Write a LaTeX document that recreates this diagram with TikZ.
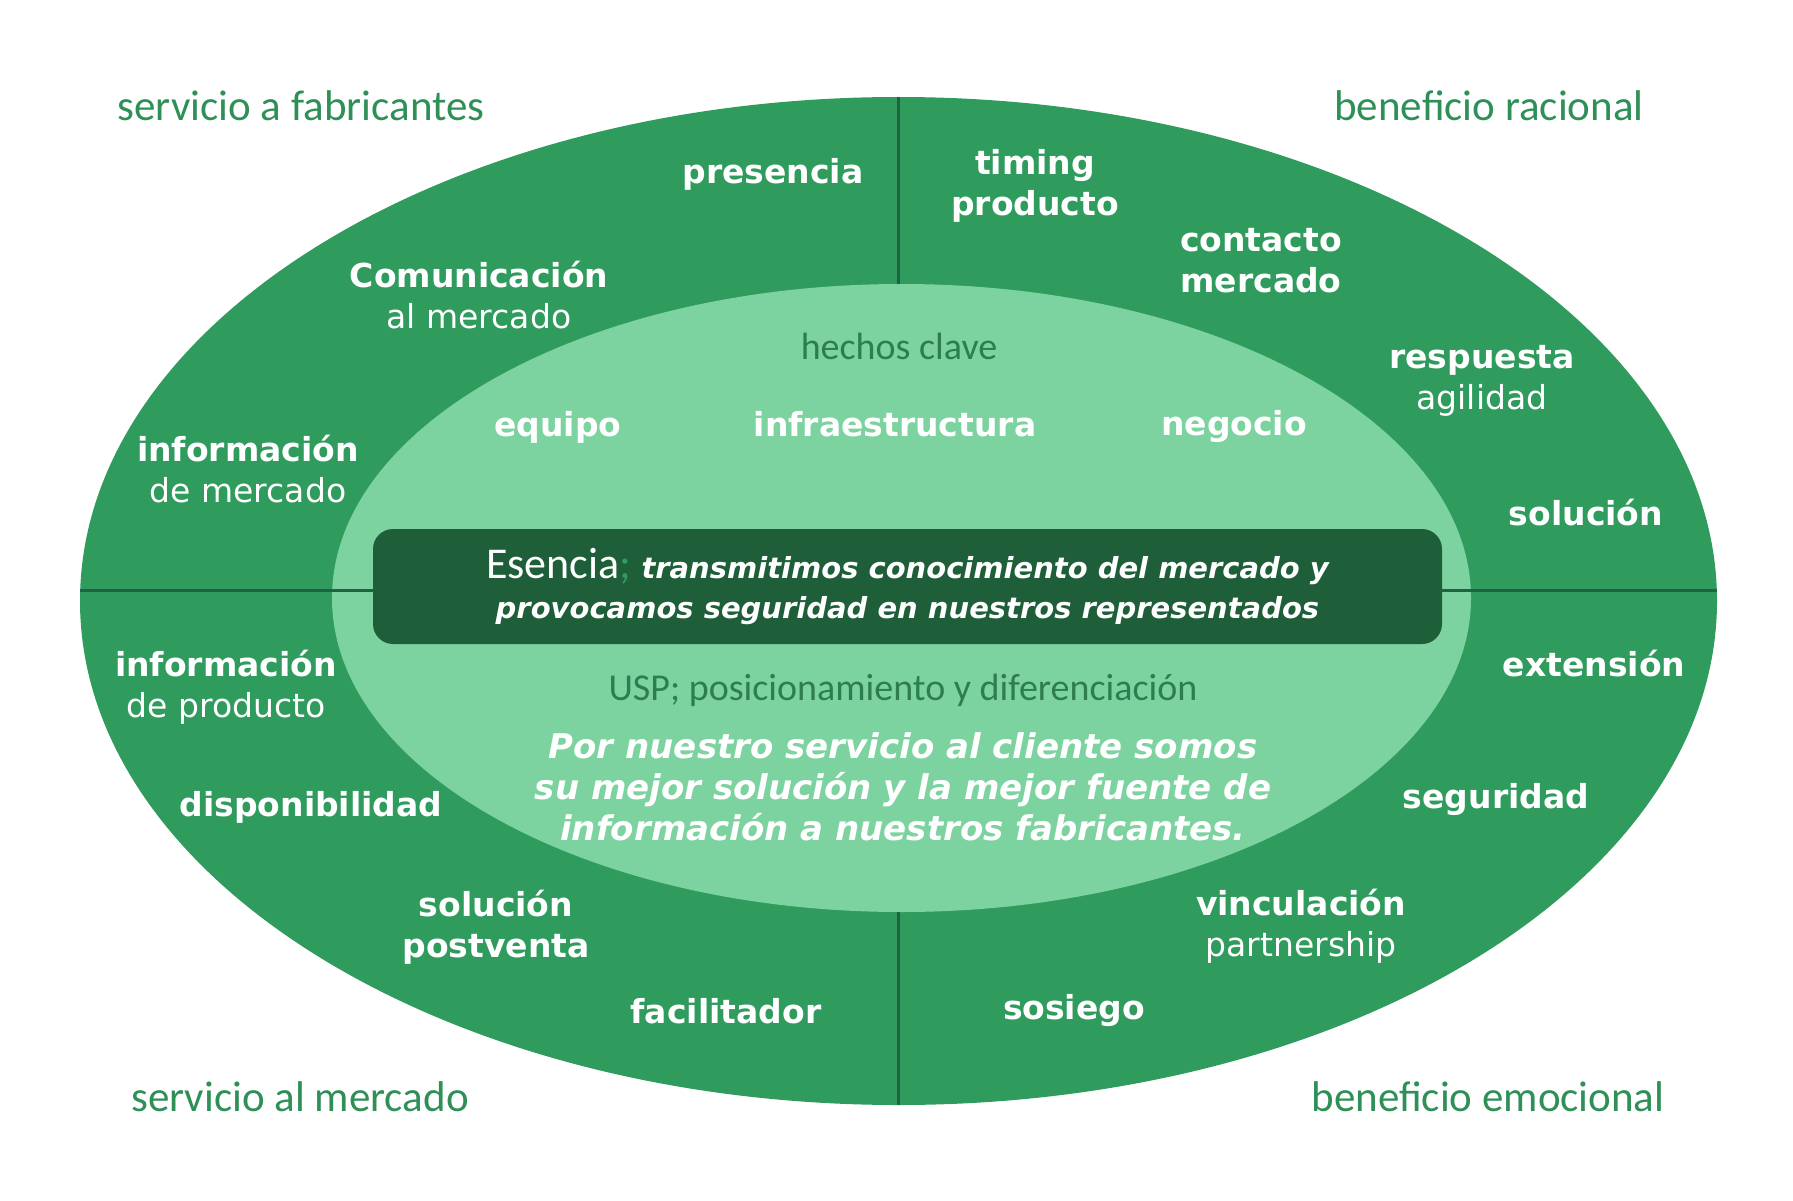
\documentclass[tikz,border=0pt]{standalone}
\usepackage{fontspec}
\setmainfont{DejaVu Sans}
\newfontfamily\thinfont{Carlito}
\usepackage{xcolor}
\usetikzlibrary{shapes.geometric}

\definecolor{outergreen}{HTML}{2F9C5E}
\definecolor{innergreen}{HTML}{7CD3A0}
\definecolor{boxgreen}{HTML}{1E5E39}
\definecolor{linegreen}{HTML}{1F6340}
\definecolor{cornergreen}{HTML}{2E8F57}
\definecolor{keygreen}{HTML}{2E7D4F}

\tikzset{
  corner/.style={text=cornergreen,font=\thinfont\fontsize{43}{48}\selectfont},
  keyword/.style={text=white,align=center,font=\bfseries\fontsize{33}{41}\selectfont},
  pair/.style={text=white,align=center,font=\fontsize{33}{41}\selectfont},
  heading/.style={text=keygreen,font=\thinfont\fontsize{38}{42}\selectfont},
  divider/.style={linegreen,line width=3pt}
}

\begin{document}
\begin{tikzpicture}[x=1pt,y=-1pt]
\useasboundingbox (0,0) rectangle (1793,1201);
% rings
\node[ellipse,fill=outergreen,minimum width=1637pt,minimum height=1008pt,inner sep=0pt,outer sep=0pt] (outer) at (898.5,601) {};
\node[ellipse,fill=innergreen,minimum width=1139pt,minimum height=628pt,inner sep=0pt,outer sep=0pt] (inner) at (901.5,598) {};
\node[fill=boxgreen,rounded corners=20pt,minimum width=1069pt,minimum height=115pt,inner sep=0pt,outer sep=0pt] (esencia) at (907.5,586.5) {};
% dividers
\coordinate (mid) at (0,590);
\draw[divider] (outer.north) -- (outer.north |- inner.north);
\draw[divider] (outer.south |- inner.south) -- (outer.south);
\draw[divider] (esencia.west |- mid) -- (outer.west |- mid);
\draw[divider] (esencia.east |- mid) -- (outer.east |- mid);

% corner titles
\node[corner] (fabricantes) at (301,106) {servicio a fabricantes};
\node[corner] (racional) at (1489,106) {beneficio racional};
\node[corner] (mercado) at (300,1097) {servicio al mercado};
\node[corner] (emocional) at (1488,1097) {beneficio emocional};

% outer ring, top
\node[keyword] (presencia) at (773,174) {presencia};
\node[keyword] (timing) at (1035,186) {timing\\producto};
\node[keyword] (contacto) at (1261,261) {contacto\\mercado};
\node[pair] (respuesta) at (1482,381) {\textbf{respuesta}\\agilidad};
\node[keyword] (solucion) at (1586,513) {solución};
\node[pair] (comunicacion) at (479,295) {\textbf{Comunicación}\\al mercado};
\node[pair] (infomercado) at (248,469) {\textbf{información}\\de mercado};

% outer ring, bottom
\node[keyword] (extension) at (1594,664) {extensión};
\node[pair] (infoproducto) at (226,687) {\textbf{información}\\de producto};
\node[keyword] (disponibilidad) at (311,807) {disponibilidad};
\node[keyword] (seguridad) at (1496,800) {seguridad};
\node[keyword] (postventa) at (496,927) {solución\\postventa};
\node[pair] (vinculacion) at (1301,926) {\textbf{vinculación}\\partnership};
\node[keyword] (facilitador) at (726,1011) {facilitador};
\node[keyword] (sosiego) at (1074,1011) {sosiego};

% inner ring
\node[heading] (hechos) at (899,346) {hechos clave};
\node[keyword] (equipo) at (558,427) {equipo};
\node[keyword] (infra) at (895,424) {infraestructura};
\node[keyword] (negocio) at (1234,427) {negocio};
\node[text=white,align=center,font=\bfseries\itshape\fontsize{29}{40}\selectfont] (esenciatext) at (esencia.center)
  {{\thinfont\upshape\mdseries\fontsize{44}{40}\selectfont Esencia\textcolor{outergreen}{;}} transmitimos conocimiento del mercado y\\provocamos seguridad en nuestros representados};
\node[heading] (usp) at (903,690) {USP; posicionamiento y diferenciación};
\node[text=white,align=center,font=\bfseries\itshape\fontsize{34}{41}\selectfont] (posicion) at (903,787)
  {Por nuestro servicio al cliente somos\\su mejor solución y la mejor fuente de\\información a nuestros fabricantes.};
\end{tikzpicture}
\end{document}
